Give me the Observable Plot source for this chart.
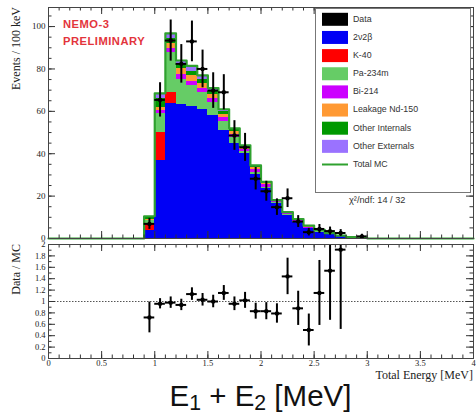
<!DOCTYPE html>
<html><head><meta charset="utf-8">
<script src="https://cdn.jsdelivr.net/npm/d3@7"></script>
<script src="https://cdn.jsdelivr.net/npm/@observablehq/plot@0.6"></script>
<style>
body{margin:0;background:#fff;}
#wrap{position:relative;width:476px;height:412px;overflow:hidden;background:#fff;}
#top{position:absolute;left:0;top:0;}
#bot{position:absolute;left:0;top:241px;}
#title{position:absolute;left:48px;width:425px;top:381px;text-align:center;font-family:"Liberation Sans",Arial,sans-serif;font-size:29.5px;line-height:29px;color:#111;white-space:nowrap;}
#title sub{font-size:0.72em;line-height:0;vertical-align:-0.2em;}
</style></head>
<body>
<div id="wrap"><div id="top"></div><div id="bot"></div>
<div id="title">E<sub>1</sub> + E<sub>2</sub> [MeV]</div></div>
<script>
// ---- data ----
const binLow = [0.9,1.0,1.1,1.2,1.3,1.4,1.5,1.6,1.7,1.8,1.9,2.0,2.1,2.2,2.3,2.4,2.5,2.6,2.7,2.8,2.9];
const binWidth = 0.1;
const components = ["2ν2β","K-40","Pa-234m","Bi-214","Leakage Nd-150","Other Internals","Other Externals"];
const componentColors = ["#0000f5","#ff0000","#66cc66","#cc00ff","#ff9933","#009900","#9a72ff"];
const mc2nu2b    = [3.8,36.8,63.5,63.0,62.5,61.0,58.0,51.0,45.0,40.0,30.0,23.6,16.3,10.8,7.7,4.6,3.0,1.8,1.0,0.4,0.2];
const mcK40      = [3.5,13.3,5.5,0.3,0,0,0,0,0,0,0,0,0,0,0,0,0,0,0,0,0];
const mcPa234m   = [1.0,8.9,19.0,11.7,9.5,8.0,6.0,4.0,2.5,1.0,1.0,0.7,0.5,0.3,0.2,0.2,0.1,0.1,0.05,0,0];
const mcBi214    = [0.3,1.5,1.5,2.5,2.0,2.0,2.0,2.0,1.5,1.0,1.5,1.0,0.5,0.5,0.5,0.5,0.4,0.2,0.15,0.1,0.05];
const mcNd150    = [0.4,1.5,2.5,2.5,3.0,2.0,2.0,1.5,1.3,0.8,0.8,0.6,0.3,0.3,0.3,0.3,0.2,0.2,0.1,0.05,0.03];
const mcOtherInt = [1.0,4.0,2.5,2.5,2.0,2.0,1.5,1.5,1.0,0.7,0.7,0.5,0.3,0.3,0.3,0.3,0.2,0.1,0.05,0.05,0.02];
const mcOtherExt = [0.5,2.5,2.3,1.5,2.5,2.0,1.5,1.0,0.7,0.5,0.5,0.3,0.2,0.2,0.2,0.2,0.2,0.1,0.05,0.05,0];
const dataCounts = [6.9,65.4,93.4,82.4,93.0,80.0,69.8,69.0,48.6,43.0,28.2,22.3,14.8,19.0,8.0,3.0,4.5,3.5,2.6,null,1.0];
const dataErr    = [2.6,8.1,9.7,9.1,9.6,8.9,8.4,8.3,7.0,6.6,5.3,4.7,3.9,4.4,2.8,1.8,2.1,1.9,1.6,null,1.0];
const ratio      = [0.72,0.96,0.98,0.94,1.13,1.03,1.00,1.15,0.96,1.02,0.83,0.83,0.79,1.44,0.88,0.50,1.15,1.54,1.91,null,null];
const ratioErr   = [0.27,0.09,0.10,0.10,0.11,0.11,0.11,0.13,0.12,0.14,0.14,0.15,0.17,0.32,0.30,0.28,0.57,0.87,1.40,null,null];
const xRange = [0, 4];
const xTicks = [0,0.5,1,1.5,2,2.5,3,3.5,4];
const yTicksTop = [0,20,40,60,80,100];
const yTicksRatio = [0,0.2,0.4,0.6,0.8,1,1.2,1.4,1.6,1.8,2];
const chi2Text = "χ²/ndf: 14 / 32";

// ---- tables built from the arrays ----
const series = [mc2nu2b,mcK40,mcPa234m,mcBi214,mcNd150,mcOtherInt,mcOtherExt];
const stackRows = [];
binLow.forEach((lo,i)=>{
  let base = 0;
  series.forEach((s,k)=>{
    if (s[i] > 0) stackRows.push({x1: lo, x2: lo + binWidth, y1: base, y2: base + s[i], comp: components[k]});
    base += s[i];
  });
});
const totals = binLow.map((lo,i)=>d3.sum(series, s=>s[i]));
const outline = [{x: xRange[0], y: 0}];
binLow.forEach((lo,i)=>outline.push({x: lo, y: totals[i]}));
outline.push({x: binLow[binLow.length-1] + binWidth, y: 0});
outline.push({x: xRange[1], y: 0});
const dataPts = binLow.map((lo,i)=>({x: lo + binWidth/2, lo, hi: lo + binWidth, y: dataCounts[i], e: dataErr[i]})).filter(d=>d.y != null);
const ratioPts = binLow.map((lo,i)=>({x: lo + binWidth/2, lo, hi: lo + binWidth, y: ratio[i], e: ratioErr[i]})).filter(d=>d.y != null);

// ---- layout ----
const W = 476, ML = 48, MR = 3;
const PW = W - ML - MR;
const TOP_H = 241, TOP_MT = 7, TOP_MB = 3;
const TOP_PH = TOP_H - TOP_MT - TOP_MB;
const BOT_H = 141, BOT_MT = 3, BOT_MB = 24;
const BOT_PH = BOT_H - BOT_MT - BOT_MB;
const tickColor = "#333";

function frameTicks(xMaj, xMin, yMaj, yMin, ph) {
  const o = {stroke: tickColor, strokeWidth: 1};
  return [
    Plot.tickY(yMaj, {y: d=>d, insetRight: PW - 7, ...o}),
    Plot.tickY(yMin, {y: d=>d, insetRight: PW - 3.5, ...o}),
    Plot.tickY(yMaj, {y: d=>d, insetLeft: PW - 7, ...o}),
    Plot.tickY(yMin, {y: d=>d, insetLeft: PW - 3.5, ...o}),
    Plot.tickX(xMaj, {x: d=>d, insetTop: ph - 7, ...o}),
    Plot.tickX(xMin, {x: d=>d, insetTop: ph - 3.5, ...o}),
    Plot.tickX(xMaj, {x: d=>d, insetBottom: ph - 7, ...o}),
    Plot.tickX(xMin, {x: d=>d, insetBottom: ph - 3.5, ...o})
  ];
}
const xMinor = d3.range(0, 4.0001, 0.1).map(v=>+v.toFixed(2));
const yMinorTop = d3.range(0, 109, 5);
const yMinorRatio = d3.range(0, 2.0001, 0.1).map(v=>+v.toFixed(2));

const errStyle = {stroke: "#000", strokeWidth: 2};

const topPlot = Plot.plot({
  width: W, height: TOP_H,
  marginLeft: ML, marginRight: MR, marginTop: TOP_MT, marginBottom: TOP_MB,
  x: {domain: xRange, axis: null},
  y: {domain: [0, 109], ticks: yTicksTop, tickSize: 0, tickPadding: 3, label: null},
  color: {domain: components, range: componentColors},
  style: {fontFamily: "'Liberation Serif', serif", fontSize: "9px", color: "#222", background: "#fff", overflow: "visible"},
  marks: [
    Plot.rect(stackRows, {x1: "x1", x2: "x2", y1: "y1", y2: "y2", fill: "comp", shapeRendering: "crispEdges"}),
    Plot.line(outline, {x: "x", y: "y", curve: "step-after", stroke: "#2fa12f", strokeWidth: 2.2}),
    Plot.ruleX(dataPts, {x: "x", y1: d=>d.y - d.e, y2: d=>d.y + d.e, ...errStyle}),
    Plot.ruleY(dataPts, {y: "y", x1: "lo", x2: "hi", ...errStyle}),
    Plot.dot(dataPts, {x: "x", y: "y", r: 2.2, fill: "#000"}),
    ...frameTicks(xTicks, xMinor, yTicksTop, yMinorTop, TOP_PH),
    Plot.frame({stroke: "#444"})
  ]
});

const botPlot = Plot.plot({
  width: W, height: BOT_H,
  marginLeft: ML, marginRight: MR, marginTop: BOT_MT, marginBottom: BOT_MB,
  x: {domain: xRange, ticks: xTicks, tickSize: 0, tickPadding: 1.5, tickFormat: d=>String(d), label: null},
  y: {domain: [0, 2], ticks: yTicksRatio, tickSize: 0, tickPadding: 3, tickFormat: d=>String(d), label: null},
  style: {fontFamily: "'Liberation Serif', serif", fontSize: "8.5px", color: "#222", background: "#fff"},
  marks: [
    Plot.ruleY([1], {stroke: "#555", strokeDasharray: "1.5,1.5", strokeWidth: 1}),
    Plot.ruleX(ratioPts, {x: "x", y1: d=>d.y - d.e, y2: d=>d.y + d.e, clip: true, ...errStyle}),
    Plot.ruleY(ratioPts, {y: "y", x1: "lo", x2: "hi", ...errStyle}),
    Plot.dot(ratioPts, {x: "x", y: "y", r: 2.2, fill: "#000"}),
    ...frameTicks(xTicks, xMinor, yTicksRatio, yMinorRatio, BOT_PH),
    Plot.frame({stroke: "#444"})
  ]
});

document.getElementById("top").appendChild(topPlot);
document.getElementById("bot").appendChild(botPlot);

// ---- annotations ----
const st = d3.select(topPlot);
st.append("text").attr("transform", `translate(17,${TOP_MT}) rotate(-90)`)
  .attr("text-anchor","end").attr("dominant-baseline","middle")
  .attr("font-family","'Liberation Serif', serif").attr("font-size",12).attr("fill","#222")
  .text("Events / 100 keV");
const red = st.append("g").attr("font-family","'Liberation Sans', Arial, sans-serif")
  .attr("font-size",11.2).attr("font-weight","bold").attr("letter-spacing","0.5px")
  .attr("fill","#e3343c").attr("text-anchor","start");
red.append("text").attr("x",63).attr("y",25).attr("dominant-baseline","middle").text("NEMO-3");
red.append("text").attr("x",63).attr("y",42).attr("dominant-baseline","middle").text("PRELIMINARY");

// legend
const lg = st.append("g").attr("font-family","'Liberation Sans', Arial, sans-serif")
  .attr("font-size",8.8).attr("fill","#333").attr("text-anchor","start");
lg.append("rect").attr("x",315.5).attr("y",8.5).attr("width",155).attr("height",184)
  .attr("fill","#fff").attr("stroke","#777");
const entries = [{name:"Data", color:"#000", kind:"box"}]
  .concat(components.map((c,i)=>({name:c, color:componentColors[i], kind:"box"})))
  .concat([{name:"Total MC", color:"#2fa12f", kind:"line"}]);
entries.forEach((e,i)=>{
  const cy = 19.3 + i*18.15;
  if (e.kind === "box") lg.append("rect").attr("x",322).attr("y",cy-6.5).attr("width",26).attr("height",13).attr("fill",e.color);
  else lg.append("line").attr("x1",322).attr("x2",348).attr("y1",cy).attr("y2",cy).attr("stroke",e.color).attr("stroke-width",2);
  lg.append("text").attr("x",353).attr("y",cy).attr("dominant-baseline","middle").text(e.name);
});
lg.append("text").attr("x",349).attr("y",19.3 + 10*18.15 - 0.5).attr("dominant-baseline","middle")
  .attr("font-size",9.2).text(chi2Text);

const sb = d3.select(botPlot);
sb.append("text").attr("transform", `translate(17,${BOT_MT}) rotate(-90)`)
  .attr("text-anchor","end").attr("dominant-baseline","middle")
  .attr("font-family","'Liberation Serif', serif").attr("font-size",12).attr("fill","#222")
  .text("Data / MC");
sb.append("text").attr("x", W - MR).attr("y", 135.5).attr("text-anchor","end").attr("dominant-baseline","middle")
  .attr("font-family","'Liberation Serif', serif").attr("font-size",12).attr("fill","#222")
  .text("Total Energy [MeV]");
</script>
</body></html>
